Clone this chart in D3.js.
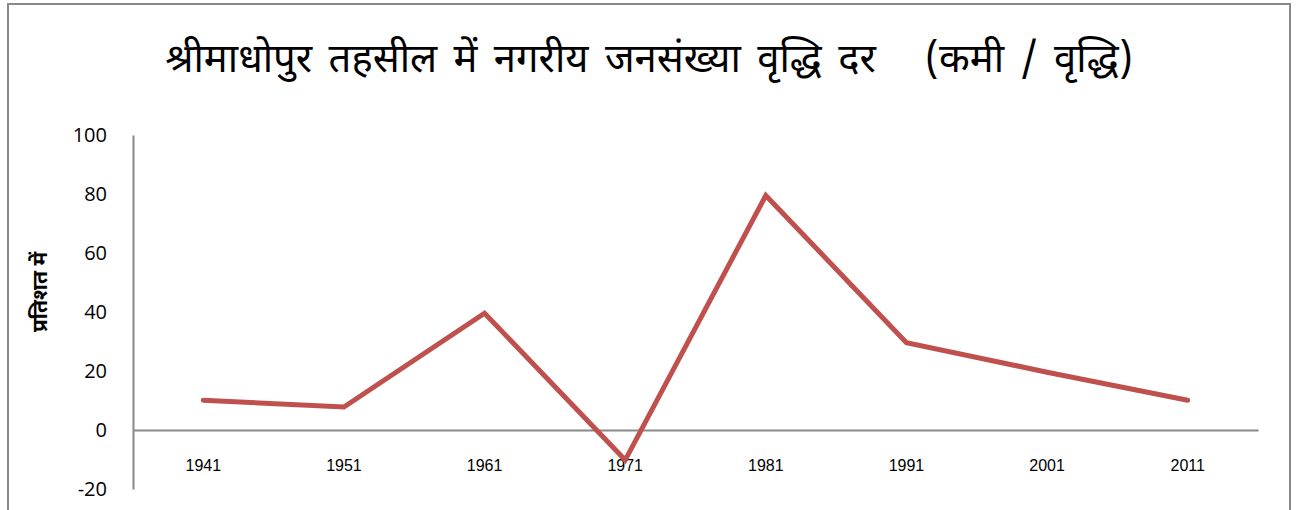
<!DOCTYPE html>
<html>
<head>
<meta charset="utf-8">
<script src="https://cdn.jsdelivr.net/npm/d3@7"></script>
<style>
  html, body { margin: 0; padding: 0; background: #fff; }
  svg { display: block; }
</style>
</head>
<body>
<div id="chart"></div>
<script>
// Data
const years = ["1941", "1951", "1961", "1971", "1981", "1991", "2001", "2011"];
const growthRate = [10.1, 7.8, 39.6, -10.2, 79.5, 29.6, 19.6, 10.1];
const yTicks = [-20, 0, 20, 40, 60, 80, 100];

const titleText = "श्रीमाधोपुर तहसील में नगरीय जनसंख्या वृद्धि दर\u00A0\u00A0\u00A0(कमी / वृद्धि)";
const yLabelText = "प्रतिशत में";

const W = 1301, H = 510;
const margin = { top: 135, right: 43, bottom: 21, left: 133 };
const width = W - margin.left - margin.right;
const height = H - margin.top - margin.bottom;

const svg = d3.select("#chart")
  .append("svg")
  .attr("width", W)
  .attr("height", H);

// Outer chart border
svg.append("rect")
  .attr("x", 8)
  .attr("y", 4)
  .attr("width", 1282)
  .attr("height", 520)
  .attr("fill", "none")
  .attr("stroke", "#898989")
  .attr("stroke-width", 2);

// Title
svg.append("text")
  .attr("x", 649)
  .attr("y", 72)
  .attr("text-anchor", "middle")
  .style("font-family", "'Noto Sans Devanagari', 'Noto Sans', sans-serif")
  .style("font-size", "40px")
  .style("word-spacing", "6px")
  .style("fill", "#000")
  .text(titleText);

const g = svg.append("g")
  .attr("transform", `translate(${margin.left},${margin.top})`);

const x = d3.scaleBand()
  .domain(years)
  .range([0, width]);

const y = d3.scaleLinear()
  .domain([-20, 100])
  .range([height, 0]);

// Y axis (no ticks, labels only)
const yAxis = g.append("g")
  .call(d3.axisLeft(y).tickValues(yTicks).tickFormat(d => String(d)).tickSize(0).tickPadding(26));
yAxis.select(".domain")
  .attr("stroke", "#898989")
  .attr("stroke-width", 2);
yAxis.selectAll("text")
  .style("font-family", "'Open Sans', 'Liberation Sans', sans-serif")
  .style("font-size", "20px")
  .style("fill", "#000");

// X axis at zero
const xAxis = g.append("g")
  .attr("transform", `translate(0,${y(0)})`)
  .call(d3.axisBottom(x).tickSize(0).tickPadding(30));
xAxis.select(".domain")
  .attr("stroke", "#898989")
  .attr("stroke-width", 2);
xAxis.selectAll("text")
  .style("font-family", "'Liberation Sans', Arial, sans-serif")
  .style("font-size", "16px")
  .style("fill", "#000");

// Y axis title
svg.append("text")
  .attr("transform", "translate(47,292) rotate(-90)")
  .attr("text-anchor", "middle")
  .style("font-family", "'Noto Sans Devanagari', 'Noto Sans', sans-serif")
  .style("font-size", "21px")
  .style("font-weight", "bold")
  .style("fill", "#000")
  .text(yLabelText);

// Line
const line = d3.line()
  .x((d, i) => x(years[i]) + x.bandwidth() / 2)
  .y(d => y(d));

g.append("path")
  .datum(growthRate)
  .attr("d", line)
  .attr("fill", "none")
  .attr("stroke", "#C0504D")
  .attr("stroke-width", 5)
  .attr("stroke-linecap", "round")
  .attr("stroke-linejoin", "miter");
</script>
</body>
</html>
